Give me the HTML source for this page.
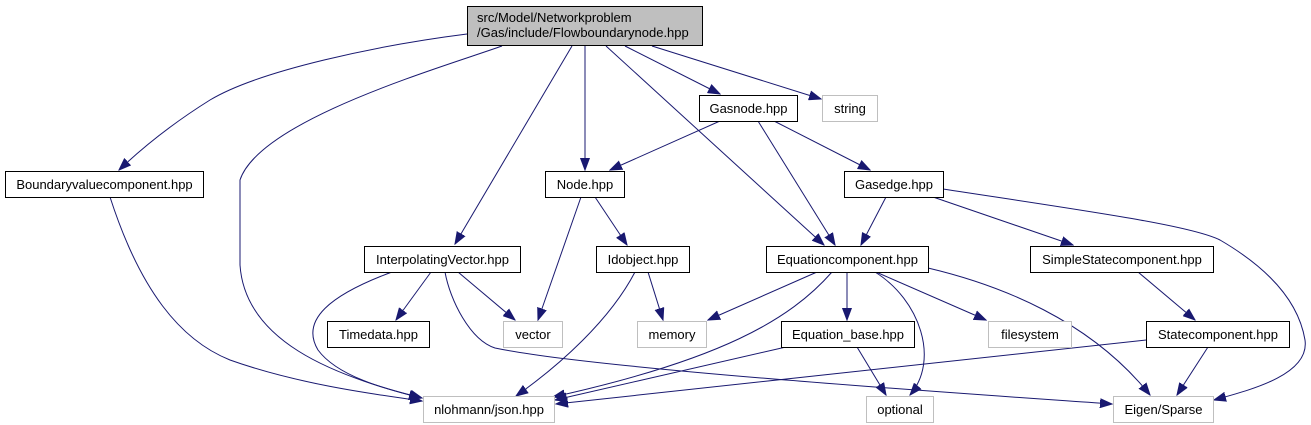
<!DOCTYPE html>
<html><head><meta charset="utf-8"><style>
html,body{margin:0;padding:0;background:#fff;}
svg{display:block;}
text{font-family:"Liberation Sans",Helvetica,sans-serif;font-size:13px;fill:#000;}
</style></head><body>
<svg width="1311" height="425" viewBox="0 0 1311 425" xmlns="http://www.w3.org/2000/svg">
<defs>
<marker id="a" markerUnits="userSpaceOnUse" markerWidth="13" markerHeight="10" refX="12" refY="5" orient="auto">
<path d="M0,0.5 L12,5 L0,9.5 Z" fill="#191970" stroke="#191970"/>
</marker>
</defs>
<g fill="none" stroke="#191970" stroke-width="1" marker-end="url(#a)">
<path d="M467,34 C380,45 260,70 210,100 C170,125 140,150 119,170"/>
<path d="M502,46 C440,68 260,120 240,180 L240,265 C245,340 330,375 421,398"/>
<path d="M572,46 L455,244"/>
<path d="M585,46 L585,170"/>
<path d="M606,46 L824,245"/>
<path d="M625,46 L720,94"/>
<path d="M652,46 L821,99"/>
<path d="M720,121 L610,170"/>
<path d="M758,121 L835,245"/>
<path d="M774,121 L870,170"/>
<path d="M581,197 L538,320"/>
<path d="M595,197 L627,245"/>
<path d="M886,197 L861,245"/>
<path d="M933,197 L1073,245"/>
<path d="M943,189 C1080,210 1190,225 1220,240 C1280,275 1300,310 1305,340 C1310,375 1250,390 1214,400"/>
<path d="M431,272 L396,320"/>
<path d="M458,272 L515,320"/>
<path d="M392,272 C330,295 300,320 318,350 C340,380 400,392 422,398"/>
<path d="M445,272 C450,300 470,340 495,348 C600,370 1000,396 1112,404"/>
<path d="M648,272 L663,320"/>
<path d="M635,272 C610,320 560,365 516,396"/>
<path d="M817,272 L708,320"/>
<path d="M832,272 C790,320 720,360 553,397"/>
<path d="M847,272 L847,320"/>
<path d="M875,272 C920,300 940,360 910,395"/>
<path d="M876,272 L986,320"/>
<path d="M928,268 C1000,285 1090,320 1150,395"/>
<path d="M786,347 L555,400"/>
<path d="M857,347 L886,395"/>
<path d="M1146,340 L556,404"/>
<path d="M1208,347 L1177,395"/>
<path d="M1138,272 L1195,320"/>
<path d="M110,197 C140,290 180,340 230,360 C300,385 380,395 422,401"/>
</g>
<g stroke-width="1">
<rect x="467.5" y="6.5" width="235" height="39" fill="#bfbfbf" stroke="#000"/>
<g fill="#fff" stroke="#000">
<rect x="699.5" y="95.5" width="98" height="26"/>
<rect x="5.5" y="171.5" width="198" height="26"/>
<rect x="545.5" y="171.5" width="79" height="26"/>
<rect x="844.5" y="171.5" width="99" height="26"/>
<rect x="364.5" y="246.5" width="156" height="26"/>
<rect x="596.5" y="246.5" width="93" height="26"/>
<rect x="766.5" y="246.5" width="162" height="26"/>
<rect x="1030.5" y="246.5" width="183" height="26"/>
<rect x="327.5" y="321.5" width="102" height="26"/>
<rect x="781.5" y="321.5" width="133" height="26"/>
<rect x="1146.5" y="321.5" width="143" height="26"/>
</g>
<g fill="#fff" stroke="#bfbfbf">
<rect x="822.5" y="95.5" width="55" height="26"/>
<rect x="503.5" y="321.5" width="59" height="26"/>
<rect x="637.5" y="321.5" width="69" height="26"/>
<rect x="988.5" y="321.5" width="83" height="26"/>
<rect x="423.5" y="396.5" width="131" height="26"/>
<rect x="866.5" y="396.5" width="67" height="26"/>
<rect x="1113.5" y="396.5" width="100" height="26"/>
</g>
</g>
<g>
<text x="477" y="22">src/Model/Networkproblem</text>
<text x="477" y="37">/Gas/include/Flowboundarynode.hpp</text>
<g text-anchor="middle">
<text x="748.5" y="113">Gasnode.hpp</text>
<text x="850" y="113">string</text>
<text x="104.5" y="189">Boundaryvaluecomponent.hpp</text>
<text x="585" y="189">Node.hpp</text>
<text x="894" y="189">Gasedge.hpp</text>
<text x="442.5" y="264">InterpolatingVector.hpp</text>
<text x="643" y="264">Idobject.hpp</text>
<text x="847.5" y="264">Equationcomponent.hpp</text>
<text x="1122" y="264">SimpleStatecomponent.hpp</text>
<text x="378.5" y="339">Timedata.hpp</text>
<text x="533" y="339">vector</text>
<text x="672" y="339">memory</text>
<text x="848" y="339">Equation_base.hpp</text>
<text x="1030" y="339">filesystem</text>
<text x="1218" y="339">Statecomponent.hpp</text>
<text x="489" y="414">nlohmann/json.hpp</text>
<text x="900" y="414">optional</text>
<text x="1163.5" y="414">Eigen/Sparse</text>
</g>
</g>
</svg>
</body></html>
